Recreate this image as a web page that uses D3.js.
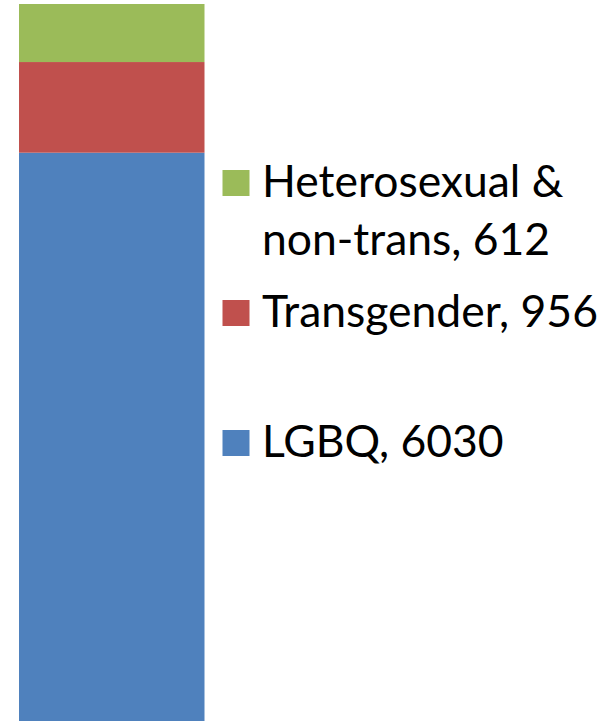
<!DOCTYPE html>
<html>
<head>
<meta charset="utf-8">
<script src="https://cdn.jsdelivr.net/npm/d3@7"></script>
<style>
  html, body { margin: 0; padding: 0; background: #fff; overflow: hidden; }
  svg { display: block; }
</style>
</head>
<body>
<svg id="chart" width="612" height="721"></svg>
<script>
// Data (stacked from bottom to top)
const categories = ["LGBQ", "Transgender", "Heterosexual & non-trans"];
const values = [6030, 956, 612];
const colors = ["#4F81BD", "#C0504D", "#9BBB59"];
// Legend lines (top to bottom)
const legendLines = [
  ["Heterosexual &", "non-trans, 612"],
  ["Transgender, 956"],
  ["LGBQ, 6030"]
];
const legendColors = ["#9BBB59", "#C0504D", "#4F81BD"];

const svg = d3.select("#chart");
const W = 612, H = 721;

const row = {};
categories.forEach((c, i) => row[c] = values[i]);
const stacked = d3.stack().keys(categories)([row]);
const total = d3.sum(values);

const y = d3.scaleLinear().domain([0, total]).range([724.5, 4]);
const x = d3.scaleBand().domain(["all"]).range([19, 204.5]).padding(0);

svg.append("g").selectAll("rect")
  .data(stacked)
  .join("rect")
  .attr("x", x("all"))
  .attr("width", x.bandwidth())
  .attr("y", d => y(d[0][1]))
  .attr("height", d => y(d[0][0]) - y(d[0][1]))
  .attr("fill", (d, i) => colors[i]);

// Legend
const fontFamily = "Lato, 'Open Sans', sans-serif";
const textX = 262;
// baselines for each text line
const baselines = [[197, 255], [327], [457]];
const sq = 26;

const lg = svg.append("g");
// fit font size so that "Transgender, 956" spans ~336px
const probe = lg.append("text").attr("font-family", fontFamily).attr("font-size", 40).text("Transgender, 956");
const w40 = probe.node().getComputedTextLength();
probe.remove();
const fs = 40 * 336 / w40;

legendLines.forEach((lines, i) => {
  const b0 = baselines[i][0];
  lg.append("rect")
    .attr("x", 222.5).attr("y", b0 - 27)
    .attr("width", 27).attr("height", sq)
    .attr("fill", legendColors[i]);
  lines.forEach((t, j) => {
    lg.append("text")
      .attr("x", textX)
      .attr("y", baselines[i][j])
      .attr("font-family", fontFamily)
      .attr("font-size", fs)
      .attr("fill", "#000")
      .text(t);
  });
});
</script>
</body>
</html>
